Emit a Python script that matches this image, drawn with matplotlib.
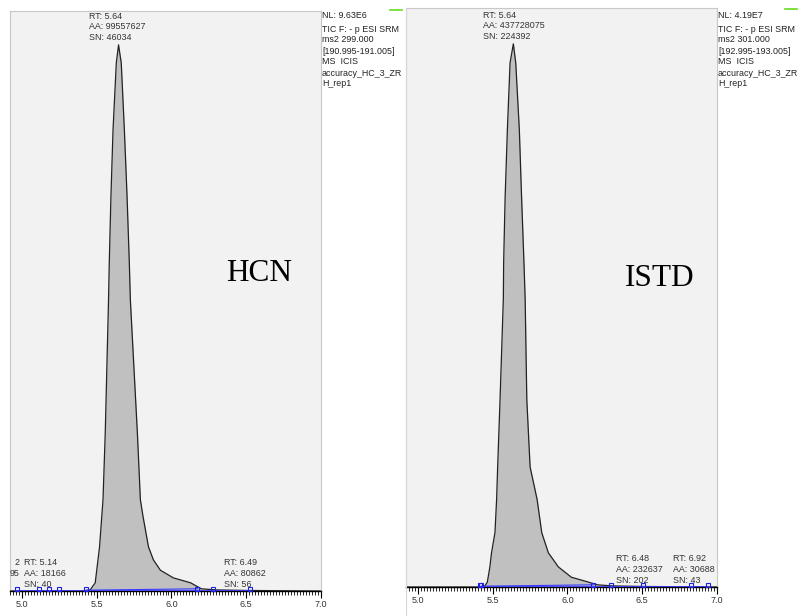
import matplotlib
matplotlib.use("Agg")
import matplotlib.pyplot as plt
from matplotlib.ticker import MultipleLocator
import numpy as np

W, H = 798, 616

# ---------------- data ----------------
hcn_nl = 9.63e6
hcn_time = [4.92, 5.00, 5.20, 5.40, 5.456, 5.49, 5.519, 5.542, 5.557, 5.579, 5.584,
            5.595, 5.609, 5.631, 5.646, 5.664, 5.685, 5.703, 5.718, 5.725, 5.772,
            5.792, 5.810, 5.846, 5.879, 5.926, 6.013, 6.128, 6.20, 6.30, 6.50, 7.00]
hcn_rel = [0, 0, 0, 0, 0.002, 0.015, 0.081, 0.167, 0.289, 0.533, 0.601,
           0.722, 0.844, 0.967, 1.0, 0.967, 0.844, 0.722, 0.601, 0.533, 0.289,
           0.167, 0.136, 0.081, 0.057, 0.038, 0.024, 0.015, 0.004, 0.002, 0.001, 0]

istd_nl = 4.19e7
istd_time = [4.92, 5.00, 5.20, 5.40, 5.443, 5.464, 5.481, 5.492, 5.515, 5.526, 5.533,
             5.549, 5.571, 5.573, 5.583, 5.598, 5.616, 5.638, 5.654, 5.678, 5.693,
             5.709, 5.717, 5.728, 5.750, 5.797, 5.828, 5.872, 5.939, 6.026, 6.140,
             6.20, 6.30, 6.50, 7.00]
istd_rel = [0, 0, 0, 0, 0, 0.009, 0.037, 0.063, 0.100, 0.161, 0.221,
            0.345, 0.530, 0.597, 0.718, 0.842, 0.965, 1.0, 0.965, 0.842, 0.718,
            0.597, 0.529, 0.345, 0.221, 0.161, 0.100, 0.063, 0.037, 0.018, 0.009,
            0.004, 0.002, 0.001, 0]

hcn_peaks = [("RT: 5.64\nAA: 99557627\nSN: 46034", 5.64, "top"),
             ("RT: 5.14\nAA: 18166\nSN: 40", 5.155, "base"),
             ("RT: 6.49\nAA: 80862\nSN: 56", 6.49, "base"),
             ("2\n95\n ", 4.985, "leftedge")]
istd_peaks = [("RT: 5.64\nAA: 437728075\nSN: 224392", 5.64, "top"),
              ("RT: 6.48\nAA: 232637\nSN: 202", 6.48, "base"),
              ("RT: 6.92\nAA: 30688\nSN: 43", 6.92, "edge")]

hcn_markers = [4.966, 5.114, 5.181, 5.248, 5.430, 6.174, 6.275, 6.523]
istd_markers = [5.412, 5.424, 6.173, 6.294, 6.508, 6.829, 6.943]
hcn_baseline = [5.43, 6.174]
istd_baseline = [5.42, 6.173]

hcn_info = ["NL: 9.63E6", "TIC F: - p ESI SRM", "ms2 299.000", "[190.995-191.005]",
            "MS  ICIS", "accuracy_HC_3_ZR", "H_rep1"]
istd_info = ["NL: 4.19E7", "TIC F: - p ESI SRM", "ms2 301.000", "[192.995-193.005]",
             "MS  ICIS", "accuracy_HC_3_ZR", "H_rep1"]

x_ticks = [5.0, 5.5, 6.0, 6.5, 7.0]

# ---------------- figure ----------------
plt.rcParams['font.family'] = ['Liberation Sans', 'DejaVu Sans']
fig = plt.figure(figsize=(W / 100, H / 100), dpi=100)
fig.patch.set_facecolor('white')


def rect(l, t, r, b):
    return [l / W, 1 - b / H, (r - l) / W, (b - t) / H]


LABEL_KW = dict(fontsize=6.4, color='#333333', linespacing=1.25, zorder=6,
                va='bottom', textcoords='offset points')


def draw_panel(ax, t, rel, nl, peaks, markers, baseline, ytop):
    y = np.array(rel) * nl
    ax.set_facecolor('#f2f2f2')
    ax.fill_between(t, 0, y, color='#c0c0c0', lw=0, zorder=2)
    ax.plot(t, y, color='#222222', lw=0.9, zorder=3)
    ax.set_xlim(4.92, 7.0)
    ax.set_ylim(0, ytop * nl)
    # baseline of integrated peak
    ax.plot(baseline, [0.0015 * nl, 0.004 * nl], color='#3a3aff', lw=0.8, zorder=4)
    ax.plot(markers, [0.003 * nl] * len(markers), ls='none', marker='s', ms=3.5,
            mfc='none', mec='#2020e0', mew=0.8, zorder=5, clip_on=False)
    ax.plot([min(markers), max(markers)], [0.001 * nl] * 2, color='#3a3aff',
            lw=0.6, zorder=4)
    for s in ['top', 'left', 'right']:
        ax.spines[s].set_color('#c8c8c8')
        ax.spines[s].set_linewidth(0.8)
    ax.spines['bottom'].set_color('black')
    ax.spines['bottom'].set_linewidth(1.0)
    ax.set_yticks([])
    ax.set_xticks(x_ticks)
    ax.set_xticklabels([f"{v:.1f}" for v in x_ticks])
    ax.xaxis.set_minor_locator(MultipleLocator(0.02))
    ax.tick_params(axis='x', which='major', length=5, width=0.8, labelsize=6.5,
                   labelcolor='#333333', pad=1.5)
    ax.tick_params(axis='x', which='minor', length=3, width=0.6)
    for txt, rt, kind in peaks:
        if kind == "top":
            ax.annotate(txt, xy=(rt, nl), xytext=(0, 2), ha='center',
                        multialignment='left', **LABEL_KW)
        elif kind == "base":
            ax.annotate(txt, xy=(rt, 0), xytext=(0, 1.5), ha='center',
                        multialignment='left', **LABEL_KW)
        elif kind == "leftedge":
            ax.annotate(txt, xy=(rt, 0), xytext=(0, 1.5), ha='right',
                        multialignment='right', **LABEL_KW)
        else:
            ax.annotate(txt, xy=(1.0, 0), xycoords=('axes fraction', 'data'),
                        xytext=(-1.5, 1.5), ha='right', multialignment='left',
                        **LABEL_KW)


ax1 = fig.add_axes(rect(10, 11, 321, 591))
draw_panel(ax1, hcn_time, hcn_rel, hcn_nl, hcn_peaks, hcn_markers, hcn_baseline, 1.062)
ax1.text(0.8, 0.548, "HCN", transform=ax1.transAxes, fontsize=22.5,
         family=['Liberation Serif', 'DejaVu Serif'], ha='center', va='center')

ax2 = fig.add_axes(rect(406, 8, 717, 587))
draw_panel(ax2, istd_time, istd_rel, istd_nl, istd_peaks, istd_markers, istd_baseline, 1.066)
ax2.text(0.816, 0.532, "ISTD", transform=ax2.transAxes, fontsize=22.5,
         family=['Liberation Serif', 'DejaVu Serif'], ha='center', va='center')

# side info texts
line_y = [15, 29, 40, 51, 62, 73, 83]
for x0, info in [(322, hcn_info), (718, istd_info)]:
    for ly, s in zip(line_y, info):
        fig.text(x0 / W, 1 - ly / H, s, fontsize=6.4, color='#222222',
                 ha='left', va='center')

# small green markers at the top right
fig.add_artist(plt.Line2D([390 / W, 402 / W], [1 - 10 / H] * 2, color='#66dd22', lw=1.2))
fig.add_artist(plt.Line2D([785 / W, 797 / W], [1 - 9 / H] * 2, color='#66dd22', lw=1.2))
# light vertical separator of second window
fig.add_artist(plt.Line2D([406 / W] * 2, [0, 1 - 8 / H], color='#d8d8d8', lw=0.8))

fig.savefig("out.png", dpi=100)
